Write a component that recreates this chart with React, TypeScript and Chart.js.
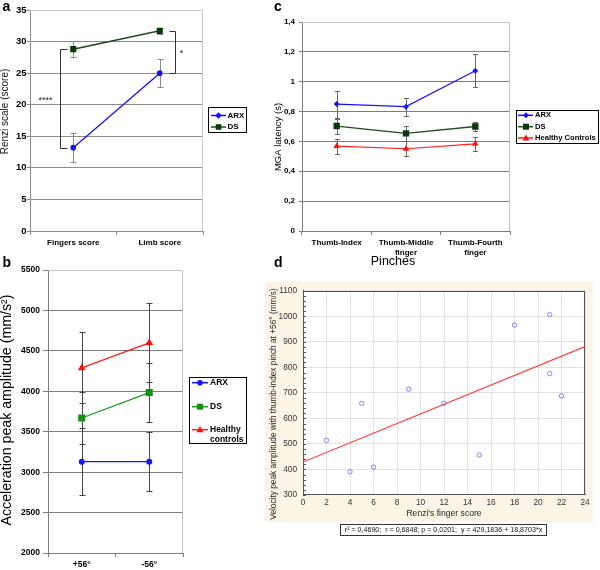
import React, { useEffect, useRef } from "react";
import { Chart, registerables } from "chart.js";
Chart.register(...registerables);

const FONT = "Arial, 'Liberation Sans', Helvetica, sans-serif";

// ---------- Panel a ----------
const aCategories = ["Fingers score", "Limb score"];
const aSeries = ["ARX", "DS"];
const aArx = [13.2, 25.0];
const aArxErr = [2.25, 2.2];
const aDs = [28.8, 31.7];
const aDsErr = [1.25, 0.5];
const aSignif = ["****", "*"];

// ---------- Panel b ----------
const bCategories = ["+56°", "-56°"];
const bSeries = ["ARX", "DS", "Healthy controls"];
const bArx = [3130, 3130];
const bArxErr = [415, 365];
const bDs = [3670, 3985];
const bDsErr = [325, 365];
const bHc = [4290, 4600];
const bHcErr = [440, 490];

// ---------- Panel c ----------
const cCategories = ["Thumb-Index", ["Thumb-Middle", "finger"], ["Thumb-Fourth", "finger"]];
const cSeries = ["ARX", "DS", "Healthy Controls"];
const cArx = [0.85, 0.833, 1.074];
const cArxErr = [0.09, 0.06, 0.11];
const cDs = [0.703, 0.654, 0.7];
const cDsErr = [0.05, 0.05, 0.03];
const cHc = [0.569, 0.551, 0.583];
const cHcErr = [0.05, 0.05, 0.05];

// ---------- Panel d ----------
const dScore = [2, 4, 5, 6, 9, 12, 15, 18, 21, 21, 22];
const dVelocity = [514, 391, 659, 409, 715, 660, 457, 966, 1007, 776, 689];
const dFitX = [0, 24];
const dFitY = [429.18, 882.07];
const dStats = "r² = 0,4690;  r = 0,6848; p = 0,0201;  y = 429,1836 + 18,8703*x";

// ---------- helpers ----------
const fnt = (size: number, weight = "normal") => `${weight} ${size}px ${FONT}`;
const plain = (v: any) => String(Math.round(Number(v)));

function drawText(ctx: any, text: string, x: number, y: number, size: number, weight = "normal", rot = 0, color = "#000", align = "center") {
  ctx.save();
  ctx.translate(x, y);
  if (rot) ctx.rotate(rot);
  ctx.font = fnt(size, weight);
  ctx.fillStyle = color;
  ctx.textAlign = align;
  ctx.textBaseline = "middle";
  ctx.fillText(text, 0, 0);
  ctx.restore();
}

function drawMarker(ctx: any, style: string, x: number, y: number, r: number, color: string) {
  ctx.beginPath();
  if (style === "circle") ctx.arc(x, y, r, 0, Math.PI * 2);
  else if (style === "rect") ctx.rect(x - r, y - r, 2 * r, 2 * r);
  else if (style === "rectRot") {
    ctx.moveTo(x, y - r); ctx.lineTo(x + r, y); ctx.lineTo(x, y + r); ctx.lineTo(x - r, y); ctx.closePath();
  } else {
    ctx.moveTo(x, y - r); ctx.lineTo(x + r, y + r * 0.7); ctx.lineTo(x - r, y + r * 0.7); ctx.closePath();
  }
  ctx.fillStyle = color;
  ctx.fill();
}

function drawErrorBars(chart: any, errs: number[][], color: string, cap: number) {
  const ctx = chart.ctx;
  const ys = chart.scales.y;
  ctx.save();
  ctx.strokeStyle = color;
  ctx.lineWidth = 1;
  chart.data.datasets.forEach((ds: any, i: number) => {
    const e = errs[i];
    if (!e) return;
    const meta = chart.getDatasetMeta(i);
    meta.data.forEach((el: any, j: number) => {
      const v = ds.data[j];
      const x = Math.round(el.x) + 0.5;
      const t = Math.round(ys.getPixelForValue(v + e[j])) + 0.5;
      const b = Math.round(ys.getPixelForValue(v - e[j])) + 0.5;
      ctx.beginPath();
      ctx.moveTo(x, t); ctx.lineTo(x, b);
      ctx.moveTo(x - cap, t); ctx.lineTo(x + cap, t);
      ctx.moveTo(x - cap, b); ctx.lineTo(x + cap, b);
      ctx.stroke();
    });
  });
  ctx.restore();
}

function drawFrame(chart: any, color: string) {
  const { left, right, top, bottom } = chart.chartArea;
  const ctx = chart.ctx;
  ctx.save();
  ctx.strokeStyle = color;
  ctx.lineWidth = 1;
  ctx.beginPath();
  ctx.moveTo(left, Math.round(top) + 0.5);
  ctx.lineTo(Math.round(right) - 0.5, Math.round(top) + 0.5);
  ctx.lineTo(Math.round(right) - 0.5, bottom);
  ctx.stroke();
  ctx.restore();
}

function drawLegend(ctx: any, chart: any, box: number[], rows: number[][], lineX: number[], markX: number, textX: number, size: number, marks: any[]) {
  const [bx, by, bw, bh] = box;
  ctx.save();
  ctx.fillStyle = "#fff";
  ctx.fillRect(bx, by, bw, bh);
  ctx.strokeStyle = "#000";
  ctx.lineWidth = 1;
  ctx.strokeRect(bx + 0.5, by + 0.5, bw - 1, bh - 1);
  chart.data.datasets.forEach((ds: any, i: number) => {
    const ys = rows[i];
    const y0 = ys[0];
    ctx.strokeStyle = ds.borderColor;
    ctx.lineWidth = 1.5;
    ctx.beginPath();
    ctx.moveTo(lineX[0], y0);
    ctx.lineTo(lineX[1], y0);
    ctx.stroke();
    drawMarker(ctx, marks[i].style, markX, y0, marks[i].r, ds.backgroundColor);
    const words = ys.length > 1 ? String(ds.label).split(" ") : [String(ds.label)];
    words.forEach((w: string, k: number) => drawText(ctx, w, textX, ys[k], size, "bold", 0, "#000", "left"));
  });
  ctx.restore();
}

const hideTop = (maxV: number, col: string) => (c: any) =>
  c.tick && Math.abs(c.tick.value - maxV) < 1e-6 ? "rgba(0,0,0,0)" : col;

// ---------- Panel a ----------
function makeA(): any {
  const GRID = "#8c8c8c";
  return {
    type: "line",
    data: {
      labels: aCategories,
      datasets: [
        { label: aSeries[0], data: aArx, borderColor: "#1010ff", backgroundColor: "#1010ff", borderWidth: 1.3, pointStyle: "circle", pointRadius: 2.8, pointBorderWidth: 0 },
        { label: aSeries[1], data: aDs, borderColor: "#1f4a1f", backgroundColor: "#0c360c", borderWidth: 1.5, pointStyle: "rect", pointRadius: 4.3, pointBorderWidth: 0 },
      ],
    },
    options: {
      responsive: false, animation: false, devicePixelRatio: 1, events: [],
      layout: { padding: { left: 0, top: 10, right: 65, bottom: 0 } },
      plugins: { legend: { display: false }, tooltip: { enabled: false } },
      scales: {
        x: {
          offset: true,
          afterFit: (s: any) => { s.height = 19; },
          ticks: { color: "#000", font: { family: FONT, size: 8, weight: "bold" }, padding: 3, maxRotation: 0, autoSkip: false },
          grid: { offset: true, drawOnChartArea: false, tickLength: 4, color: GRID },
          border: { color: GRID },
        },
        y: {
          min: 0, max: 35,
          afterFit: (s: any) => { s.width = 30; },
          ticks: { stepSize: 5, color: "#000", font: { family: FONT, size: 9.5, weight: "bold" }, padding: 0.5, callback: plain },
          grid: { color: hideTop(35, GRID), tickColor: GRID, tickLength: 3 },
          border: { color: GRID },
        },
      },
    },
    plugins: [{
      id: "aExtras",
      beforeDatasetsDraw(chart: any) {
        drawFrame(chart, "#c8c8c8");
        drawErrorBars(chart, [aArxErr, aDsErr], "#8a8a8a", 3);
      },
      afterDatasetsDraw(chart: any) {
        const ctx = chart.ctx, x = chart.scales.x, y = chart.scales.y;
        ctx.save();
        ctx.strokeStyle = "#333";
        ctx.lineWidth = 1;
        const xl = Math.round(x.getPixelForValue(0) - 13) + 0.5;
        const t1 = Math.round(y.getPixelForValue(aDs[0])) + 0.5, b1 = Math.round(y.getPixelForValue(aArx[0])) + 0.5;
        ctx.beginPath(); ctx.moveTo(xl + 7, t1); ctx.lineTo(xl, t1); ctx.lineTo(xl, b1); ctx.lineTo(xl + 7, b1); ctx.stroke();
        const xr = Math.round(x.getPixelForValue(1) + 15) + 0.5;
        const t2 = Math.round(y.getPixelForValue(aDs[1])) + 0.5, b2 = Math.round(y.getPixelForValue(aArx[1])) + 0.5;
        ctx.beginPath(); ctx.moveTo(xr - 6, t2); ctx.lineTo(xr, t2); ctx.lineTo(xr, b2); ctx.lineTo(xr - 6, b2); ctx.stroke();
        ctx.restore();
        drawText(ctx, aSignif[0], xl - 15, y.getPixelForValue((aDs[0] + aArx[0]) / 2) + 2, 9, "normal", 0, "#222");
        drawText(ctx, aSignif[1], xr + 6, y.getPixelForValue((aDs[1] + aArx[1]) / 2) + 2, 9, "normal", 0, "#222");
        drawText(ctx, "Renzi scale (score)", 5, 111.5, 10, "normal", -Math.PI / 2, "#111");
        drawLegend(ctx, chart, [208, 107, 39, 26], [[115.5], [127]], [211, 226], 218.5, 227.5, 8,
          [{ style: "rectRot", r: 3.2 }, { style: "rect", r: 2.8 }]);
      },
    }],
  };
}

// ---------- Panel b ----------
function makeB(): any {
  const GRID = "#7c7c7c";
  return {
    type: "line",
    data: {
      labels: bCategories,
      datasets: [
        { label: bSeries[0], data: bArx, borderColor: "#1414ff", backgroundColor: "#1414ff", borderWidth: 1.3, pointStyle: "circle", pointRadius: 3, pointBorderWidth: 0 },
        { label: bSeries[1], data: bDs, borderColor: "#1c9a1c", backgroundColor: "#149014", borderWidth: 1.3, pointStyle: "rect", pointRadius: 5, pointBorderWidth: 0 },
        { label: bSeries[2], data: bHc, borderColor: "#ff2020", backgroundColor: "#ff1010", borderWidth: 1.3, pointStyle: "triangle", pointRadius: 4.5, pointBorderWidth: 0 },
      ],
    },
    options: {
      responsive: false, animation: false, devicePixelRatio: 1, events: [],
      layout: { padding: { left: 0, top: 6.3, right: 82, bottom: 0 } },
      plugins: { legend: { display: false }, tooltip: { enabled: false } },
      scales: {
        x: {
          offset: true,
          afterFit: (s: any) => { s.height = 17; },
          ticks: { color: "#000", font: { family: FONT, size: 8.5, weight: "bold" }, padding: 3, maxRotation: 0, autoSkip: false },
          grid: { offset: true, drawOnChartArea: false, tickLength: 4, color: GRID },
          border: { color: GRID },
        },
        y: {
          min: 2000, max: 5500,
          afterFit: (s: any) => { s.width = 48; },
          ticks: { stepSize: 500, color: "#000", font: { family: FONT, size: 8.5, weight: "bold" }, padding: 3, callback: plain },
          grid: { color: hideTop(5500, GRID), tickColor: GRID, tickLength: 5 },
          border: { color: GRID },
        },
      },
    },
    plugins: [{
      id: "bExtras",
      beforeDatasetsDraw(chart: any) {
        drawFrame(chart, "#c0c0c0");
        drawErrorBars(chart, [bArxErr, bDsErr, bHcErr], "#444", 3);
      },
      afterDatasetsDraw(chart: any) {
        const ctx = chart.ctx;
        drawText(ctx, "Acceleration peak amplitude (mm/s²)", 7, 148, 14.2, "normal", -Math.PI / 2, "#000");
        drawLegend(ctx, chart, [189, 115, 58, 67], [[120.7], [144.7], [167.7, 177.3]], [192, 208], 200, 210, 8.5,
          [{ style: "circle", r: 2.8 }, { style: "rect", r: 3 }, { style: "triangle", r: 3.6 }]);
      },
    }],
  };
}

// ---------- Panel c ----------
function makeC(): any {
  const GRID = "#7c7c7c";
  return {
    type: "line",
    data: {
      labels: cCategories,
      datasets: [
        { label: cSeries[0], data: cArx, borderColor: "#1414ff", backgroundColor: "#1414ff", borderWidth: 1.2, pointStyle: "rectRot", pointRadius: 3, pointBorderWidth: 0 },
        { label: cSeries[1], data: cDs, borderColor: "#1f4a1f", backgroundColor: "#0c360c", borderWidth: 1.3, pointStyle: "rect", pointRadius: 4.5, pointBorderWidth: 0 },
        { label: cSeries[2], data: cHc, borderColor: "#ff2020", backgroundColor: "#ff1010", borderWidth: 1.2, pointStyle: "triangle", pointRadius: 3.8, pointBorderWidth: 0 },
      ],
    },
    options: {
      responsive: false, animation: false, devicePixelRatio: 1, events: [],
      layout: { padding: { left: 0, top: 22, right: 90, bottom: 0 } },
      plugins: { legend: { display: false }, tooltip: { enabled: false } },
      scales: {
        x: {
          offset: true,
          afterFit: (s: any) => { s.height = 41; },
          ticks: { color: "#000", font: { family: FONT, size: 8, weight: "bold", lineHeight: 1.25 }, padding: 3, maxRotation: 0, autoSkip: false },
          grid: { offset: true, drawOnChartArea: false, tickLength: 4, color: GRID },
          border: { color: GRID },
        },
        y: {
          min: 0, max: 1.4,
          afterFit: (s: any) => { s.width = 34; },
          ticks: {
            stepSize: 0.2, color: "#000", font: { family: FONT, size: 8, weight: "bold" }, padding: 4,
            callback: (v: any) => String(Math.round(Number(v) * 10) / 10).replace(".", ","),
          },
          grid: { color: hideTop(1.4, GRID), tickColor: GRID, tickLength: 3 },
          border: { color: GRID },
        },
      },
    },
    plugins: [{
      id: "cExtras",
      beforeDatasetsDraw(chart: any) {
        drawFrame(chart, "#c0c0c0");
        drawErrorBars(chart, [cArxErr, cDsErr, cHcErr], "#666", 2.5);
      },
      afterDatasetsDraw(chart: any) {
        const ctx = chart.ctx;
        drawText(ctx, "MGA latency (s)", 10, 137, 9.5, "normal", -Math.PI / 2, "#000");
        drawText(ctx, "Pinches", 125, 262, 12.5, "normal", 0, "#000");
        drawLegend(ctx, chart, [248, 110, 83, 34], [[115.3], [126.7], [138]], [250, 265], 258, 267, 7.6,
          [{ style: "rectRot", r: 3 }, { style: "rect", r: 3 }, { style: "triangle", r: 3.4 }]);
      },
    }],
  };
}

// ---------- Panel d ----------
function makeD(): any {
  return {
    type: "scatter",
    data: {
      datasets: [
        {
          label: "points", data: dScore.map((x, i) => ({ x, y: dVelocity[i] })),
          pointStyle: "circle", pointRadius: 2.2, borderColor: "#7474ff", backgroundColor: "rgba(0,0,0,0)", pointBorderWidth: 0.9,
        },
        {
          label: "fit", data: dFitX.map((x, i) => ({ x, y: dFitY[i] })), showLine: true,
          borderColor: "#ff3a3a", borderWidth: 1.2, pointRadius: 0,
        },
      ],
    },
    options: {
      responsive: false, animation: false, devicePixelRatio: 1, events: [],
      layout: { padding: { left: 0, top: 9.5, right: 15, bottom: 0 } },
      plugins: { legend: { display: false }, tooltip: { enabled: false } },
      scales: {
        x: {
          type: "linear", min: 0, max: 24,
          afterFit: (s: any) => { s.height = 47; },
          ticks: { stepSize: 2, color: "#333", font: { family: FONT, size: 8.3 }, padding: 3, maxRotation: 0, autoSkip: false, callback: plain },
          grid: { color: "#e2e2e2", drawTicks: false },
          border: { color: "#555" },
        },
        y: {
          type: "linear", min: 300, max: 1100,
          afterFit: (s: any) => { s.width = 41; },
          ticks: { stepSize: 100, color: "#333", font: { family: FONT, size: 8.3 }, padding: 6, callback: plain },
          grid: { color: "#e2e2e2", drawTicks: false },
          border: { color: "#555" },
        },
      },
    },
    plugins: [{
      id: "dExtras",
      beforeDraw(chart: any) {
        const ctx = chart.ctx;
        const { left, right, top, bottom } = chart.chartArea;
        ctx.save();
        ctx.fillStyle = "#fcf5e6";
        ctx.fillRect(3, 2, 328, 240);
        ctx.fillStyle = "#fff";
        ctx.fillRect(left, top, right - left, bottom - top);
        ctx.restore();
      },
      beforeDatasetsDraw(chart: any) {
        const ctx = chart.ctx;
        const { left, right, top, bottom } = chart.chartArea;
        const y = chart.scales.y;
        ctx.save();
        ctx.strokeStyle = "#555";
        ctx.lineWidth = 1;
        ctx.strokeRect(Math.round(left) + 0.5, Math.round(top) + 0.5, Math.round(right - left) - 1, Math.round(bottom - top) - 1);
        ctx.beginPath();
        for (let v = 300; v <= 1100; v += 20) {
          const py = Math.round(y.getPixelForValue(v)) + 0.5;
          ctx.moveTo(left, py); ctx.lineTo(left + 3, py);
        }
        ctx.stroke();
        ctx.restore();
      },
      afterDatasetsDraw(chart: any) {
        const ctx = chart.ctx;
        drawText(ctx, "Renzi's finger score", 182, 234, 8.6, "normal", 0, "#222");
        drawText(ctx, "Velocity peak amplitude with thumb-index pinch at +56° (mm/s)", 12, 124, 8.3, "normal", -Math.PI / 2, "#222");
        ctx.save();
        ctx.fillStyle = "#fff";
        ctx.fillRect(78, 244, 207, 12);
        ctx.strokeStyle = "#333";
        ctx.lineWidth = 1;
        ctx.strokeRect(78.5, 244.5, 206, 11);
        ctx.restore();
        drawText(ctx, dStats, 181.5, 250.5, 7.1, "normal", 0, "#111");
      },
    }],
  };
}

function ChartCanvas({ left, top, width, height, make }: { left: number; top: number; width: number; height: number; make: () => any }) {
  const ref = useRef<HTMLCanvasElement | null>(null);
  useEffect(() => {
    if (!ref.current) return;
    const chart = new Chart(ref.current, make());
    return () => chart.destroy();
  }, [make]);
  return (
    <canvas ref={ref} width={width} height={height}
      style={{ position: "absolute", left, top, width, height, display: "block" }} />
  );
}

const labelStyle = (left: number, top: number): any => ({
  position: "absolute", left, top, font: `bold 14px ${FONT}`, lineHeight: "14px", color: "#000",
});

export default function App() {
  return (
    <div style={{ position: "absolute", left: 0, top: 0, width: 600, height: 570, background: "#fff", overflow: "hidden" }}>
      <ChartCanvas left={0} top={0} width={268} height={250} make={makeA} />
      <ChartCanvas left={268} top={0} width={332} height={272} make={makeC} />
      <ChartCanvas left={0} top={262} width={265} height={308} make={makeB} />
      <ChartCanvas left={262} top={280} width={338} height={262} make={makeD} />
      <div style={labelStyle(2.5, -1)}>a</div>
      <div style={labelStyle(2.5, 255)}>b</div>
      <div style={labelStyle(274, -1)}>c</div>
      <div style={labelStyle(274, 255)}>d</div>
    </div>
  );
}
